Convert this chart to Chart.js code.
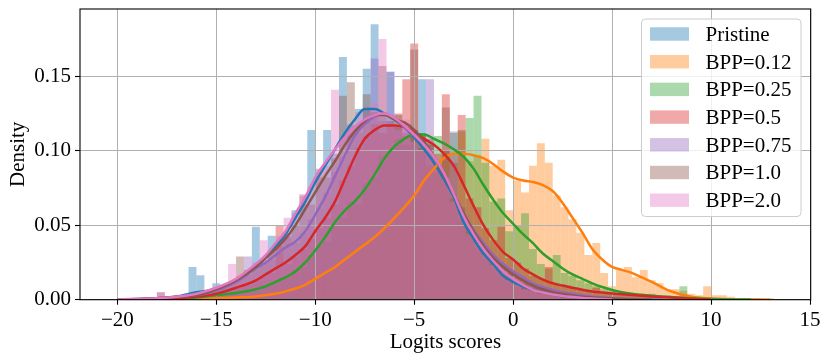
<!DOCTYPE html>
<html>
<head>
<meta charset="utf-8">
<script src="https://cdn.jsdelivr.net/npm/chart.js@4.4.0/dist/chart.umd.min.js"></script>
<style>
  html, body { margin: 0; padding: 0; background: #fff; }
  #wrap { width: 830px; height: 362px; }
</style>
</head>
<body>
<div id="wrap"><canvas id="logitsChart" width="830" height="362"></canvas></div>
<script>
// Histogram densities, bins 0.4 wide, listed from the centre of each series' first bin
const binWidth = 0.4;

const pristineStart = -17.8;
const pristineHist = [0.001, 0.001, 0.002, 0.003, 0.022, 0.0165, 0.006, 0.011, 0.008, 0.012,
  0.015, 0.020, 0.049, 0.027, 0.043, 0.039, 0.045, 0.060, 0.064, 0.114,
  0.082, 0.114, 0.098, 0.163, 0.117, 0.128, 0.155, 0.185, 0.124, 0.153,
  0.116, 0.110, 0.112, 0.148, 0.090, 0.088, 0.078, 0.066, 0.054, 0.044,
  0.035, 0.028, 0.022, 0.016, 0.012, 0.009, 0.008, 0.006, 0.005, 0.003,
  0.003, 0.002, 0.001, 0.001, 0.001, 0.000, 0.001];

const bpp012Start = -17.0;
const bpp012Hist = [0.001, 0.000, 0.001, 0.000, 0.001, 0.001, 0.001, 0.002, 0.001, 0.002,
  0.002, 0.003, 0.003, 0.004, 0.005, 0.007, 0.009, 0.012, 0.015, 0.018,
  0.022, 0.026, 0.030, 0.034, 0.038, 0.042, 0.047, 0.051, 0.057, 0.063,
  0.068, 0.080, 0.086, 0.091, 0.100, 0.097, 0.113, 0.093, 0.097, 0.108,
  0.090, 0.094, 0.060, 0.080, 0.072, 0.090, 0.105, 0.092, 0.070, 0.062,
  0.054, 0.045, 0.030, 0.038, 0.018, 0.009, 0.020, 0.022, 0.015, 0.020,
  0.013, 0.011, 0.007, 0.007, 0.006, 0.004, 0.003, 0.009, 0.003, 0.003,
  0.002, 0.001, 0.001, 0.001, 0.000, 0.001];

const bpp025Start = -17.8;
const bpp025Hist = [0.001, 0.000, 0.001, 0.001, 0.002, 0.001, 0.003, 0.002, 0.004, 0.005,
  0.005, 0.007, 0.006, 0.010, 0.011, 0.013, 0.015, 0.020, 0.022, 0.030,
  0.036, 0.039, 0.051, 0.055, 0.066, 0.064, 0.078, 0.082, 0.097, 0.100,
  0.108, 0.104, 0.114, 0.112, 0.105, 0.110, 0.100, 0.112, 0.114, 0.122,
  0.137, 0.092, 0.066, 0.068, 0.046, 0.050, 0.058, 0.034, 0.024, 0.021,
  0.030, 0.018, 0.016, 0.013, 0.011, 0.009, 0.007, 0.006, 0.004, 0.004,
  0.003, 0.003, 0.004, 0.002, 0.001, 0.002, 0.009, 0.001, 0.001, 0.000,
  0.001, 0.001, 0.001];

const bpp05Start = -17.8;
const bpp05Hist = [0.001, 0.001, 0.001, 0.002, 0.002, 0.002, 0.003, 0.004, 0.005, 0.007,
  0.009, 0.010, 0.013, 0.016, 0.018, 0.050, 0.024, 0.029, 0.034, 0.041,
  0.048, 0.055, 0.064, 0.080, 0.090, 0.102, 0.110, 0.118, 0.112, 0.120,
  0.125, 0.148, 0.172, 0.110, 0.104, 0.098, 0.138, 0.092, 0.124, 0.068,
  0.062, 0.048, 0.040, 0.049, 0.028, 0.025, 0.021, 0.016, 0.014, 0.022,
  0.010, 0.009, 0.008, 0.007, 0.006, 0.008, 0.004, 0.004, 0.004, 0.003,
  0.003, 0.003, 0.002, 0.002, 0.001, 0.001, 0.001, 0.001];

const bpp075Start = -17.8;
const bpp075Hist = [0.001, 0.001, 0.002, 0.002, 0.003, 0.003, 0.005, 0.006, 0.008, 0.011,
  0.014, 0.029, 0.020, 0.025, 0.027, 0.031, 0.043, 0.038, 0.045, 0.054,
  0.062, 0.072, 0.086, 0.096, 0.112, 0.112, 0.128, 0.162, 0.120, 0.153,
  0.114, 0.118, 0.104, 0.100, 0.148, 0.088, 0.082, 0.113, 0.058, 0.050,
  0.040, 0.036, 0.026, 0.024, 0.018, 0.015, 0.012, 0.010, 0.008, 0.006,
  0.005, 0.004, 0.003, 0.003, 0.002, 0.002, 0.001, 0.001, 0.001];

const bpp10Start = -18.6;
const bpp10Hist = [0.001, 0.001, 0.005, 0.001, 0.002, 0.002, 0.003, 0.004, 0.005, 0.007,
  0.009, 0.012, 0.029, 0.017, 0.022, 0.025, 0.032, 0.036, 0.042, 0.050,
  0.070, 0.064, 0.088, 0.082, 0.095, 0.137, 0.146, 0.116, 0.138, 0.126,
  0.157, 0.118, 0.124, 0.112, 0.168, 0.102, 0.108, 0.086, 0.129, 0.068,
  0.062, 0.048, 0.042, 0.032, 0.029, 0.020, 0.018, 0.012, 0.011, 0.008,
  0.007, 0.004, 0.004, 0.002, 0.002, 0.001, 0.001, 0.001];

const bpp20Start = -18.2;
const bpp20Hist = [0.001, 0.005, 0.001, 0.002, 0.002, 0.003, 0.004, 0.006, 0.008, 0.010,
  0.024, 0.016, 0.020, 0.025, 0.040, 0.034, 0.043, 0.055, 0.058, 0.071,
  0.076, 0.086, 0.090, 0.141, 0.108, 0.118, 0.126, 0.118, 0.132, 0.175,
  0.118, 0.114, 0.121, 0.106, 0.100, 0.100, 0.089, 0.082, 0.066, 0.058,
  0.044, 0.038, 0.030, 0.023, 0.019, 0.013, 0.010, 0.007, 0.006, 0.004,
  0.003, 0.003, 0.001, 0.001, 0.001];

// KDE curves, sampled at kdeX (null = outside the data range)
const kdeX = [-20, -19, -18, -17, -16, -15, -14, -13, -12.5, -12, -11.5, -11, -10.5, -10, -9.5,
  -9, -8.5, -8, -7.5, -7, -6.5, -6, -5.5, -5, -4.5, -4, -3.5, -3, -2.5, -2, -1.5, -1, -0.5,
  0, 0.5, 1, 1.5, 2, 2.5, 3, 3.5, 4, 4.5, 5, 5.5, 6, 6.5, 7, 7.5, 8, 9, 10, 11, 12, 13];

const pristineKde = [null, 0.0003, 0.001, 0.002, 0.005, 0.007, 0.013, 0.023, 0.029, 0.036, 0.044,
  0.055, 0.066, 0.079, 0.090, 0.101, 0.112, 0.121, 0.128, 0.128, 0.125, 0.121, 0.116, 0.109,
  0.101, 0.092, 0.081, 0.069, 0.052, 0.041, 0.031, 0.024, 0.016, 0.012, 0.009, 0.0065, 0.005,
  0.0035, 0.0025, 0.0018, 0.0012, 0.0008, 0.0005, 0.0003, 0.0001,
  null, null, null, null, null, null, null, null, null, null];
const bpp012Kde = [null, null, 0.0002, 0.0004, 0.0007, 0.001, 0.0015, 0.0022, 0.003, 0.004, 0.0055,
  0.0075, 0.010, 0.014, 0.018, 0.022, 0.027, 0.032, 0.037, 0.042, 0.048, 0.055, 0.062, 0.070,
  0.080, 0.088, 0.095, 0.098, 0.098, 0.097, 0.095, 0.091, 0.086, 0.082, 0.080, 0.079, 0.077,
  0.073, 0.065, 0.055, 0.045, 0.034, 0.027, 0.022, 0.020, 0.018, 0.015, 0.012, 0.0085, 0.0055,
  0.002, 0.0008, 0.0003, 0.0001, 0.00003];
const bpp025Kde = [0.0001, 0.0002, 0.0004, 0.0008, 0.0015, 0.003, 0.0045, 0.007, 0.009, 0.012, 0.015,
  0.019, 0.025, 0.033, 0.042, 0.052, 0.060, 0.066, 0.074, 0.084, 0.095, 0.103, 0.108, 0.111,
  0.111, 0.108, 0.105, 0.101, 0.096, 0.088, 0.077, 0.067, 0.058, 0.051, 0.044, 0.038, 0.031,
  0.026, 0.021, 0.017, 0.014, 0.011, 0.0085, 0.0065, 0.005, 0.004, 0.0033, 0.0027, 0.0022, 0.0018,
  0.001, 0.0005, 0.0002, 0.0001, null];
const bpp05Kde = [0.0001, 0.0003, 0.0006, 0.001, 0.002, 0.004, 0.008, 0.013, 0.017, 0.021, 0.025,
  0.030, 0.036, 0.046, 0.055, 0.066, 0.081, 0.096, 0.108, 0.114, 0.117, 0.117, 0.116, 0.113,
  0.108, 0.104, 0.098, 0.090, 0.077, 0.063, 0.050, 0.040, 0.032, 0.027, 0.021, 0.017, 0.0135,
  0.011, 0.0095, 0.008, 0.0067, 0.0055, 0.0048, 0.0042, 0.0037, 0.0032, 0.0027, 0.0022, 0.0018, 0.0015,
  0.0007, 0.0002, null, null, null];
const bpp075Kde = [0.0001, 0.0004, 0.001, 0.002, 0.003, 0.006, 0.012, 0.021, 0.025, 0.030, 0.035,
  0.039, 0.046, 0.057, 0.069, 0.083, 0.097, 0.110, 0.118, 0.123, 0.125, 0.122, 0.116, 0.110,
  0.104, 0.096, 0.085, 0.071, 0.058, 0.047, 0.038, 0.030, 0.024, 0.019, 0.015, 0.011, 0.0085,
  0.0065, 0.005, 0.004, 0.003, 0.0022, 0.0016, 0.0011, 0.0008, 0.0005, 0.0003, 0.0002, 0.0001,
  null, null, null, null, null, null];
const bpp10Kde = [0.0002, 0.0005, 0.001, 0.002, 0.003, 0.007, 0.013, 0.022, 0.028, 0.034, 0.041,
  0.050, 0.061, 0.072, 0.083, 0.093, 0.104, 0.113, 0.120, 0.124, 0.124, 0.121, 0.119, 0.114,
  0.106, 0.096, 0.084, 0.071, 0.058, 0.046, 0.036, 0.028, 0.022, 0.017, 0.013, 0.0095, 0.007,
  0.005, 0.0038, 0.0028, 0.002, 0.0015, 0.0011, 0.0008, 0.0005, 0.0003, 0.0002, 0.0001,
  null, null, null, null, null, null, null];
const bpp20Kde = [0.0002, 0.0005, 0.001, 0.002, 0.004, 0.008, 0.014, 0.024, 0.030, 0.038, 0.046,
  0.058, 0.069, 0.082, 0.092, 0.101, 0.109, 0.116, 0.121, 0.124, 0.125, 0.122, 0.117, 0.111,
  0.104, 0.096, 0.085, 0.071, 0.056, 0.044, 0.034, 0.026, 0.019, 0.014, 0.010, 0.0065, 0.0048,
  0.0035, 0.0025, 0.0018, 0.0012, 0.0008, 0.0004, 0.0002,
  null, null, null, null, null, null, null, null, null, null, null];

const seriesNames = ['Pristine', 'BPP=0.12', 'BPP=0.25', 'BPP=0.5', 'BPP=0.75', 'BPP=1.0', 'BPP=2.0'];
const seriesColors = ['#1f77b4', '#ff7f0e', '#2ca02c', '#d62728', '#9467bd', '#8c564b', '#e377c2'];
const histStarts = [pristineStart, bpp012Start, bpp025Start, bpp05Start, bpp075Start, bpp10Start, bpp20Start];
const histValues = [pristineHist, bpp012Hist, bpp025Hist, bpp05Hist, bpp075Hist, bpp10Hist, bpp20Hist];
const kdeValues = [pristineKde, bpp012Kde, bpp025Kde, bpp05Kde, bpp075Kde, bpp10Kde, bpp20Kde];

const xTicks = [-20, -15, -10, -5, 0, 5, 10, 15];
const yTicks = [0, 0.05, 0.10, 0.15];

const FONT = 'Liberation Serif, Times New Roman, serif';

const hexToRgba = (hex, a) => {
  const n = parseInt(hex.slice(1), 16);
  return `rgba(${n >> 16}, ${(n >> 8) & 255}, ${n & 255}, ${a})`;
};
const toBins = (start, heights) =>
  heights.map((h, i) => ({ x: +(start + i * binWidth).toFixed(2), y: h }));
const toCurve = (ys) => kdeX.map((x, i) => ({ x, y: ys[i] }));

const datasets = [];
seriesNames.forEach((name, i) => {
  datasets.push({
    type: 'bar',
    label: name,
    data: toBins(histStarts[i], histValues[i]),
    backgroundColor: hexToRgba(seriesColors[i], 0.4),
    borderWidth: 0,
    inflateAmount: 0,
    grouped: false,
    barPercentage: 1,
    categoryPercentage: 1,
    order: 20 - i
  });
});
seriesNames.forEach((name, i) => {
  datasets.push({
    type: 'line',
    label: name + ' kde',
    data: toCurve(kdeValues[i]),
    borderColor: seriesColors[i],
    borderWidth: 2.5,
    pointRadius: 0,
    fill: false,
    cubicInterpolationMode: 'monotone',
    order: 10 - i
  });
});

// grid is drawn above the bars but below the kde lines, as in matplotlib
const gridOverBars = {
  id: 'gridOverBars',
  afterDatasetDraw(chart, args) {
    if (args.index !== seriesNames.length - 1) return;
    const { ctx, chartArea: a, scales: { x, y } } = chart;
    ctx.save();
    ctx.strokeStyle = '#b0b0b0';
    ctx.lineWidth = 1;
    ctx.beginPath();
    xTicks.forEach((v) => {
      const px = Math.floor(x.getPixelForValue(v)) + 0.5;
      ctx.moveTo(px, a.top);
      ctx.lineTo(px, a.bottom);
    });
    yTicks.forEach((v) => {
      const py = Math.floor(y.getPixelForValue(v)) + 0.5;
      ctx.moveTo(a.left, py);
      ctx.lineTo(a.right, py);
    });
    ctx.stroke();
    ctx.restore();
  }
};

// axes frame and legend box in the upper right
const frameAndLegend = {
  id: 'frameAndLegend',
  afterDraw(chart) {
    const { ctx, chartArea: a } = chart;
    ctx.save();
    ctx.strokeStyle = '#000';
    ctx.lineWidth = 1.1;
    ctx.strokeRect(a.left, a.top, a.right - a.left, a.bottom - a.top);

    const bx = 641.5, by = 19, bw = 159.5, bh = 197.5, r = 4;
    ctx.beginPath();
    ctx.roundRect(bx, by, bw, bh, r);
    ctx.fillStyle = 'rgba(255, 255, 255, 0.8)';
    ctx.fill();
    ctx.strokeStyle = '#cccccc';
    ctx.lineWidth = 1;
    ctx.stroke();

    ctx.font = `21px ${FONT}`;
    ctx.textAlign = 'left';
    ctx.textBaseline = 'alphabetic';
    seriesNames.forEach((name, i) => {
      const cy = 34 + i * 27.7;
      ctx.fillStyle = hexToRgba(seriesColors[i], 0.4);
      ctx.fillRect(650, cy - 6.7, 39, 13.4);
      ctx.fillStyle = '#000';
      ctx.fillText(name, 705.5, cy + 6.8);
    });
    ctx.restore();
  }
};

const tickFont = { family: FONT, size: 21 };

new Chart(document.getElementById('logitsChart').getContext('2d'), {
  type: 'bar',
  data: { datasets },
  options: {
    responsive: false,
    animation: false,
    devicePixelRatio: 1,
    layout: { padding: { top: 9, right: 19.3, bottom: 0, left: 0 } },
    plugins: {
      legend: { display: false },
      tooltip: { enabled: false }
    },
    scales: {
      x: {
        type: 'linear',
        min: -21.885,
        max: 15.035,
        offset: false,
        afterBuildTicks: (s) => { s.ticks = xTicks.map((v) => ({ value: v })); },
        afterFit: (s) => { s.height = 62.3; s.paddingLeft = 0; s.paddingRight = 0; },
        border: { display: false },
        grid: { drawOnChartArea: false, drawTicks: true, tickLength: 5, tickColor: '#000', tickWidth: 1.1, offset: false },
        ticks: {
          font: tickFont, color: '#000', padding: 3, maxRotation: 0, autoSkip: false,
          callback: (v) => (v < 0 ? '\u2212' + Math.abs(v) : String(v))
        },
        title: { display: true, text: 'Logits scores', font: tickFont, color: '#000', padding: { top: 0, bottom: 6.8 } }
      },
      y: {
        min: 0,
        max: 0.1952,
        afterBuildTicks: (s) => { s.ticks = yTicks.map((v) => ({ value: v })); },
        afterFit: (s) => { s.width = 80; s.paddingTop = 0; s.paddingBottom = 0; },
        border: { display: false },
        grid: { drawOnChartArea: false, drawTicks: true, tickLength: 5, tickColor: '#000', tickWidth: 1.1 },
        ticks: {
          font: tickFont, color: '#000', padding: 4,
          callback: (v) => v.toFixed(2)
        },
        title: { display: true, text: 'Density', font: tickFont, color: '#000', padding: { top: 6, bottom: 0 } }
      }
    }
  },
  plugins: [gridOverBars, frameAndLegend]
});
</script>
</body>
</html>
